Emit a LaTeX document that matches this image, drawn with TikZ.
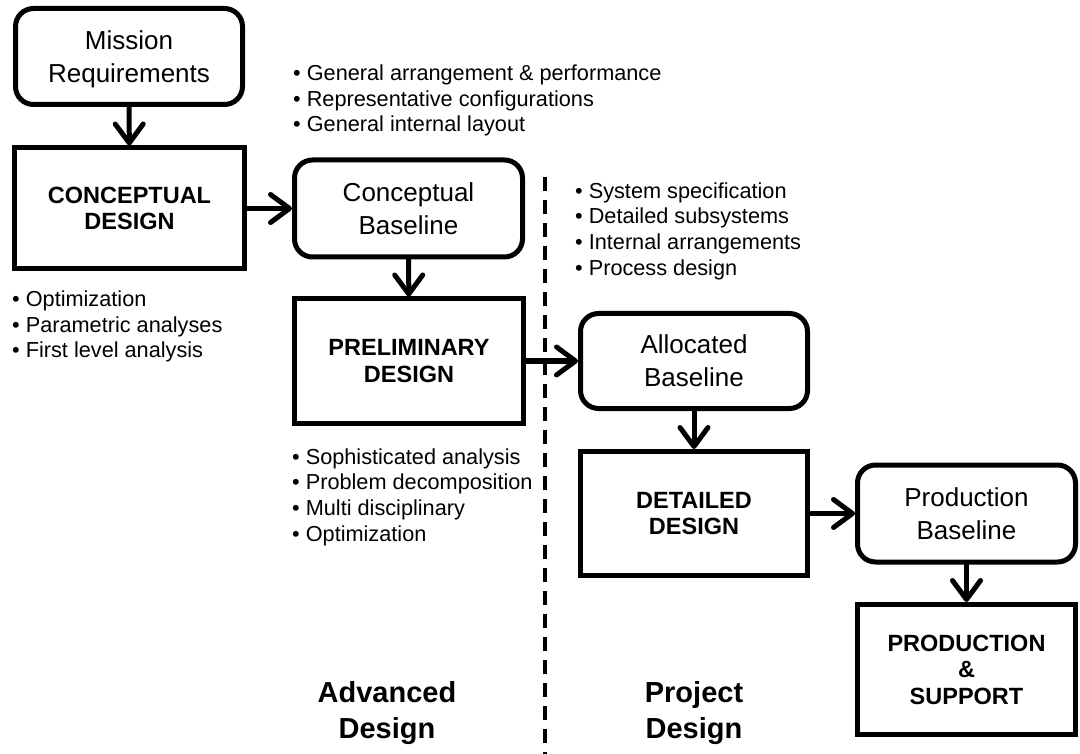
\documentclass[tikz,border=0pt]{standalone}
\usepackage{fontspec}
\setmainfont{Liberation Sans}
\usetikzlibrary{arrows.meta}
\begin{document}
\begin{tikzpicture}[x=1pt,y=-1pt,
  box/.style={draw, line width=5pt, align=center, inner sep=0pt, text depth=0pt},
  roundbox/.style={box, rounded corners=18pt, font=\fontsize{26}{33}\selectfont},
  sqbox/.style={box, font=\fontsize{23.5}{26.5}\selectfont\bfseries},
  conn/.style={line width=5pt, line cap=round, line join=round, -{Straight Barb[length=19pt, width=28pt, line cap=round, line join=round]}},
  bullets/.style={anchor=west, align=left, inner sep=0pt, font=\fontsize{21.7}{25.7}\selectfont},
  phase/.style={align=center, inner sep=0pt, font=\fontsize{29}{36}\selectfont\bfseries},
  divider/.style={line width=3.5pt, dash pattern=on 14pt off 9pt}]
\fill[white] (0,0) rectangle (1080,754);
\useasboundingbox (0,0) rectangle (1080,754);

\node[roundbox, minimum width=227pt, minimum height=96pt] (mr) at (129,56.5) {Mission\\Requirements};
\node[sqbox, minimum width=230pt, minimum height=121pt] (cd) at (129.5,208.5) {CONCEPTUAL\\DESIGN};
\node[roundbox, minimum width=228pt, minimum height=97pt] (cb) at (408.5,208.5) {Conceptual\\Baseline};
\node[sqbox, minimum width=229pt, minimum height=124pt] (pd) at (409,361) {PRELIMINARY\\DESIGN};
\node[roundbox, minimum width=227pt, minimum height=95pt] (ab) at (694,361) {Allocated\\Baseline};
\node[sqbox, minimum width=227pt, minimum height=124pt] (dd) at (694,513.5) {DETAILED\\DESIGN};
\node[roundbox, minimum width=218pt, minimum height=97pt] (pb) at (966.5,513.5) {Production\\Baseline};
\node[sqbox, minimum width=218pt, minimum height=130pt] (ps) at (966.5,669.5) {PRODUCTION\\\&\\SUPPORT};

\coordinate (dtop) at (545,177);
\coordinate (dbot) at (545,754);
\draw[divider] (dtop) -- (dbot);

\draw[conn] (mr) -- (cd);
\draw[conn] (cd) -- (cb);
\draw[conn] (cb) -- (pd);
\draw[conn] (pd) -- (ab);
\draw[conn] (ab) -- (dd);
\draw[conn] (dd) -- (pb);
\draw[conn] (pb) -- (ps);

\node[bullets] (t1) at (293,100.5) {• General arrangement \& performance\\• Representative configurations\\• General internal layout};
\node[bullets] (t2) at (12,326.5) {• Optimization\\• Parametric analyses\\• First level analysis};
\node[bullets] (t3) at (292,497) {• Sophisticated analysis\\• Problem decomposition\\• Multi disciplinary\\• Optimization};
\node[bullets] (t4) at (575,231) {• System specification\\• Detailed subsystems\\• Internal arrangements\\• Process design};

\node[phase] (adv) at (387,713) {Advanced\\Design};
\node[phase] (prj) at (694,713) {Project\\Design};
\end{tikzpicture}
\end{document}
